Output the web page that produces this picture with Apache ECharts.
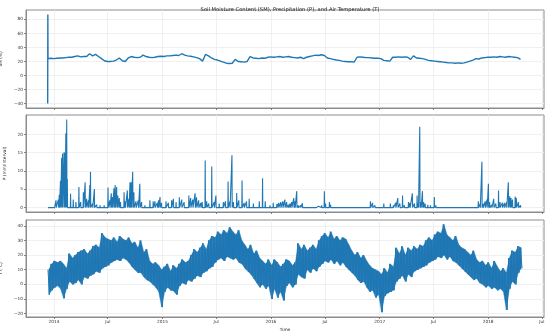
<!DOCTYPE html>
<html><head><meta charset="utf-8">
<script src="https://cdn.jsdelivr.net/npm/echarts@6/dist/echarts.min.js"></script>
<style>html,body{margin:0;padding:0;background:#fff}#c{width:550px;height:336px}</style>
</head><body><div id="c"></div>
<script>
// ---- data ----
const startDate = '2013-12-12';   // first regular sample
const stepDays = 10;              // spacing of the regular samples
const smSpike = [-40, 87];        // sensor glitch at the very start
const smValues = [24,24.5,24,24.5,25,25,25.5,26,26,27,28,26.5,27,27,31,28,30,27,24,21,
20,20,20.5,22,25,21,20,25,27,26,25.5,26,29,27,26,25.5,26,27,27.5,27,
28,28,28.5,29,28.5,31,29,28,27.5,26.5,25.5,24,20.5,30,28,25,23,22,20.5,19,
17.5,17,17.5,23,20,19.5,19,20,27,25,24.5,24,25,24.5,26,26.5,26,26.5,27,26,
26.5,27,26,25.5,25,26,24,26,27,28,29,28.5,29.5,28.5,25,24,23,22,21.5,20.5,
20,19.5,19.5,19,26,26.5,26,25.5,25.5,25,24.5,24.5,24,21.5,21,20.5,26,26,26.5,26,
26.5,26,23,28,25,24.5,24,23,21.5,21,20.5,20,19.5,19,18.5,18,18,17.5,18,17.5,
18,19,20.5,22,24,23.5,25,25.5,26,26,26.5,26,27,26.5,26,27,26.5,26,25.5,23];
const tHigh = [10,14,16,15,16,14,11,21,18,20,22,23,24,21,23,26,27,25,35,32,
31,30,32,29,33,31,30,32,28,29,25,30,22,24,16,14,15,13,10,12,
14,9,13,11,14,17,15,16,20,24,22,25,28,24,30,33,32,36,34,37,
35,39,36,34,37,30,27,24,27,21,23,18,16,14,17,13,17,15,12,14,
17,16,13,15,28,24,27,23,25,27,24,30,33,35,32,36,31,33,30,32,
31,27,23,20,22,18,20,16,13,11,10,9,7,11,8,14,12,25,21,26,
20,25,23,26,24,27,26,30,32,30,34,36,35,41,34,32,30,33,27,25,
24,22,20,23,17,15,16,13,15,11,16,12,9,11,8,18,23,22,26,25];
const tLow = [-7,-4,-2,-1,-3,-9.5,-3,2,0,1,3,0,5,4,6,7,9,8,11,12,
13,15,16,17,16,18,17,15,12,10,8,8,5,3,2,0,-2,-5,-15.5,-5,
-2,-4,-4.5,-7,-1,1,0,3,2,4,6,5,8,9,11,12,15,17,18,16,
19,18,17,18,15,14,11,9,7,4,1,-2,0,-3,-1,-10,-3,-9,-5,-11,
-1,1,-2,0,7,5,4,10,8,11,9,12,14,16,15,17,14,16,13,15,
12,10,8,6,3,1,2,-2,-5,-4,-9,-7,-19,-8,-6,-5,-4,2,4,6,
2,7,5,9,10,11,12,13,15,16,17,19,18,20,17,19,16,15,13,11,
9,7,5,3,4,1,0,-2,-1,-3,-2,-4,-3,-5,-17.5,-3,2,0,8,11];
// precipitation events: day offset from 2014-01-01 and amount
const pDays = [-19,-8,3,7,15,18,22,26,29,34,37,40,43,45,56,65,74,84,90,99,
105,110,116,121,123,130,136,144,155,169,182,188,193,197,202,206,211,215,220,224,
236,240,247,252,256,260,265,269,276,284,289,295,306,323,334,340,348,352,357,362,
377,385,396,402,411,422,430,438,454,460,467,475,480,487,494,499,509,514,521,531,
539,545,556,570,577,586,592,599,604,615,622,633,640,648,657,671,691,702,711,727,
738,750,756,763,770,777,783,789,794,800,807,811,817,822,830,836,842,884,890,901,
910,914,927,931,946,1065,1072,1080,1092,1103,1110,1116,1132,1142,1150,1157,1164,1173,1179,1193,
1198,1206,1213,1222,1226,1231,1235,1240,1244,1249,1258,1267,1273,1280,1285,1392,1400,1417,1428,1434,
1440,1444,1451,1457,1462,1466,1473,1480,1487,1496,1501,1509,1516,1523,1529,1534,1538,1543,1552,1556,
1563,1570];
const pValues = [0.4,0.4,0.5,2.0,2.2,3.5,7.3,13.6,14.8,15.1,15.0,20.3,24.1,7.8,3.8,2.2,1.5,5.6,1.5,4.2,
6.9,2.4,2.0,6.2,9.8,1.1,5.1,0.8,0.6,0.6,5.5,2.0,3.9,2.9,5.3,6.2,5.6,3.3,2.6,1.5,
4.2,1.7,4.7,2.4,6.9,6.9,9.8,4.2,1.7,2.0,6.5,1.5,0.6,2.0,1.7,1.7,1.3,2.0,2.9,1.3,
1.7,1.3,2.0,2.4,1.5,2.8,2.2,1.5,3.3,2.6,2.2,3.9,2.8,2.0,1.3,1.5,12.9,1.7,1.1,11.2,
1.5,3.3,1.1,1.5,1.7,7.1,1.7,14.3,1.5,4.0,2.0,7.4,1.3,1.7,2.4,1.1,1.7,8.0,1.7,0.6,
1.3,1.0,1.3,1.5,1.7,2.2,1.5,0.8,1.1,1.5,2.6,1.7,4.5,0.6,0.6,1.2,0.4,0.4,0.4,0.6,
4.5,1.1,1.5,0.8,0.4,1.7,1.3,0.6,0.4,0.4,1.1,0.4,1.1,0.6,1.3,2.6,1.1,3.3,0.6,1.5,
1.3,3.9,1.1,3.3,1.3,22.1,1.5,4.5,1.5,1.1,0.8,0.6,0.4,2.9,0.6,0.4,0.3,0.3,1.7,1.1,
12.5,1.1,1.7,2.2,6.5,1.5,0.8,2.4,1.1,4.7,1.5,1.3,1.3,1.5,6.9,3.1,2.6,2.2,3.0,2.6,
1.5,0.6];
const pSpan = [-20, 1572];        // first/last day of the precipitation record
const xTickDates = ['2014-01-01','2014-07-01','2015-01-01','2015-07-01','2016-01-01',
  '2016-07-01','2017-01-01','2017-07-01','2018-01-01','2018-07-01'];
const xTickLabels = ['2014','Jul','2015','Jul','2016','Jul','2017','Jul','2018','Jul'];
const xRange = ['2013-09-29', '2018-07-08'];
const smTicks = [-40,-20,0,20,40,60,80];
const pTicks = [0,5,10,15,20];
const tTicks = [-20,-10,0,10,20,30,40];
const smRange = [-46.35, 93.35];
const pRange = [-1.2, 25.3];
const tRange = [-22.3, 44];

// ---- build series ----
const DAY = 86400000;
const ms = s => Date.parse(s + 'T00:00:00Z');
const t0 = ms(startDate);
const ref = ms('2014-01-01');
const smData = [[t0 - DAY, smSpike[0]], [t0 - 0.5 * DAY, smSpike[1]]]
  .concat(smValues.map((v, k) => [t0 + k * stepDays * DAY, v]));
const tData = [];
tHigh.forEach((h, k) => {
  tData.push([t0 + k * stepDays * DAY, h]);
  tData.push([t0 + (k * stepDays + stepDays / 2) * DAY, tLow[k]]);
});
// filled envelope between consecutive samples: [x0, low0, high0, x1, low1, high1]
const tBand = [];
for (let k = 0; k + 1 < tHigh.length; k++) {
  tBand.push([t0 + (k * stepDays + 2.5) * DAY, tLow[k], tHigh[k],
              t0 + ((k + 1) * stepDays + 2.5) * DAY, tLow[k + 1], tHigh[k + 1]]);
}
const pData = [[ref + pSpan[0] * DAY, 0]];
pDays.forEach((d, i) => {
  const t = ref + d * DAY;
  pData.push([t - 0.8 * DAY, 0], [t, pValues[i]], [t + 0.8 * DAY, 0]);
});
pData.push([ref + pSpan[1] * DAY, 0]);

const xTicks = xTickDates.map(ms);
const labelOf = v => { const i = xTicks.indexOf(v); return i >= 0 ? xTickLabels[i] : ''; };
const fmtY = v => String(v).replace('-', '\u2212');

const FONT = 'DejaVu Sans';
const C = '#1f77b4';
const tops = [10, 115, 220];
const H = [98, 97, 97];
const grids = tops.map((t, i) => ({
  left: 26, width: 518, top: t, height: H[i], show: true,
  borderColor: '#8c8c8c', borderWidth: 1, backgroundColor: '#fff',
  outerBoundsMode: 'none', containLabel: false
}));
const xAxes = [0, 1, 2].map(i => ({
  type: 'value', gridIndex: i, min: ms(xRange[0]), max: ms(xRange[1]),
  axisLine: { show: true, onZero: false, lineStyle: { color: '#8c8c8c', width: 1 } },
  axisTick: { show: true, customValues: xTicks, length: 2, lineStyle: { color: '#555', width: 0.7 } },
  axisLabel: { show: i === 2, customValues: xTicks, formatter: labelOf, fontSize: 4.3,
    color: '#333', fontFamily: FONT, margin: 3, hideOverlap: false },
  splitLine: { show: true, lineStyle: { color: '#ececec', width: 0.8 } },
  name: i === 2 ? 'Time' : '', nameLocation: 'middle', nameGap: 11,
  nameTextStyle: { fontSize: 4.3, color: '#222', fontFamily: FONT }
}));
function yAx(i, range, ticks, name, gap) {
  return {
    type: 'value', gridIndex: i, min: range[0], max: range[1],
    axisLine: { show: true, onZero: false, lineStyle: { color: '#8c8c8c', width: 1 } },
    axisTick: { show: true, customValues: ticks, length: 2, lineStyle: { color: '#555', width: 0.7 } },
    axisLabel: { customValues: ticks, formatter: fmtY, fontSize: 4.3, color: '#333',
      fontFamily: FONT, margin: 3, showMinLabel: true, showMaxLabel: true },
    splitLine: { show: true, lineStyle: { color: '#ececec', width: 0.8 } },
    name: name, nameLocation: 'middle', nameGap: gap, nameRotate: 90,
    nameTextStyle: { fontSize: 4.3, color: '#222', fontFamily: FONT }
  };
}
const line = (i, data, w) => ({
  type: 'line', xAxisIndex: i, yAxisIndex: i, data: data, showSymbol: false,
  symbol: 'none', clip: true, animation: false,
  lineStyle: { color: C, width: w }, itemStyle: { color: C }
});

const chart = echarts.init(document.getElementById('c'), null, { renderer: 'canvas' });
chart.setOption({
  animation: false,
  backgroundColor: '#fff',
  title: { text: 'Soil Moisture Content (SM), Precipitation (P), and Air Temperature (T)',
    left: 285, top: 2, textAlign: 'center',
    textStyle: { fontSize: 5.2, fontWeight: 'normal', color: '#222', fontFamily: FONT } },
  grid: grids,
  xAxis: xAxes,
  yAxis: [yAx(0, smRange, smTicks, 'SM (%)', 12),
          yAx(1, pRange, pTicks, 'P (mm/interval)', 9),
          yAx(2, tRange, tTicks, 'T (\u00b0C)', 12)],
  series: [
    line(0, smData, 1.4),
    line(1, pData, 1.1),
    {
      type: 'custom', xAxisIndex: 2, yAxisIndex: 2, data: tBand, clip: true,
      encode: { x: [0, 3], y: [1, 2, 4, 5] }, animation: false, silent: true,
      renderItem: (params, api) => {
        const a = api.coord([api.value(0), api.value(2)]);
        const b = api.coord([api.value(3), api.value(5)]);
        const c = api.coord([api.value(3), api.value(4)]);
        const d = api.coord([api.value(0), api.value(1)]);
        return { type: 'polygon', shape: { points: [a, b, c, d] },
          style: { fill: C, stroke: C, lineWidth: 0.4 } };
      }
    },
    line(2, tData, 1.0)
  ]
});
</script></body></html>
